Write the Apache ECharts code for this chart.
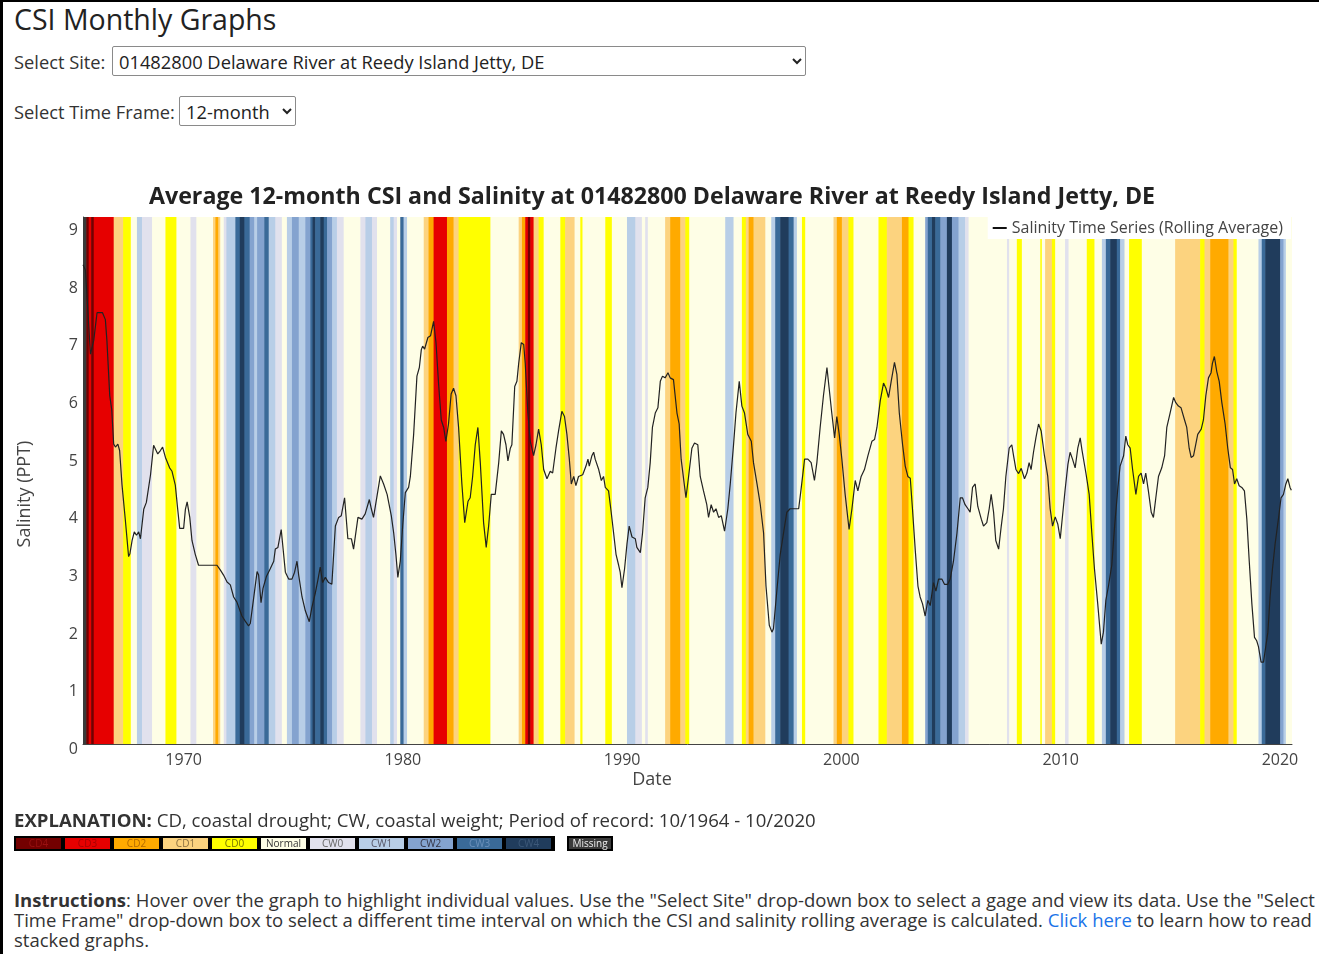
<!DOCTYPE html>
<html><head><meta charset="utf-8">
<script src="https://cdn.jsdelivr.net/npm/echarts@6/dist/echarts.min.js"></script>
<style>
html,body{margin:0;padding:0;background:#fff;}
body{width:1319px;height:954px;position:relative;overflow:hidden;font-family:"Open Sans",sans-serif;color:#333;}
#frame{position:absolute;left:0;top:0;width:1319px;height:954px;border-top:2px solid #000;border-left:3px solid #000;box-sizing:border-box;pointer-events:none;z-index:5;}
#h1{position:absolute;left:14px;top:0px;font-size:28.5px;color:#222;white-space:nowrap;}
.lab{position:absolute;font-size:18.3px;white-space:nowrap;color:#333;}
select{position:absolute;font-family:"Open Sans",sans-serif;font-size:18.3px;color:#222;background:#fff;border:1px solid #8a8a8a;border-radius:2px;height:30px;padding:0 2px;}
#chart{position:absolute;left:0;top:150px;width:1319px;height:660px;}
#expl{position:absolute;left:14px;top:807px;font-size:18.6px;white-space:nowrap;color:#333;}
#strip{position:absolute;left:14px;top:836px;height:15px;width:541px;background:#000;display:flex;gap:4px;padding:2px 2px;box-sizing:border-box;}
#strip div{width:45px;height:11px;font-size:10px;line-height:11px;text-align:center;}
#missing{position:absolute;left:567px;top:836px;width:46px;height:15px;background:#3a3a3a;border:2px solid #000;box-sizing:border-box;color:#eee;font-size:10px;line-height:11px;text-align:center;}
#instr{position:absolute;left:14px;top:890px;font-size:18.5px;line-height:20px;white-space:nowrap;color:#333;}
#instr a{color:#1a73e8;text-decoration:none;}
</style></head>
<body>
<div id="frame"></div>
<div id="h1">CSI Monthly Graphs</div>
<div class="lab" style="left:14px;top:49px;">Select Site:</div>
<select style="left:112px;top:46px;width:694px;"><option>01482800 Delaware River at Reedy Island Jetty, DE</option></select>
<div class="lab" style="left:14px;top:99px;">Select Time Frame:</div>
<select style="left:179px;top:96px;width:117px;"><option>12-month</option></select>
<div id="chart"></div>
<div id="expl"><b>EXPLANATION:</b> CD, coastal drought; CW, coastal weight; Period of record: 10/1964 - 10/2020</div>
<div id="strip"></div>
<div id="missing">Missing</div>
<div id="instr"><b>Instructions</b>: Hover over the graph to highlight individual values. Use the "Select Site" drop-down box to select a gage and view its data. Use the "Select<br>Time Frame" drop-down box to select a different time interval on which the CSI and salinity rolling average is calculated. <a href="#">Click here</a> to learn how to read<br>stacked graphs.</div>
<script>
// ---- CSI categories ----
const catNames = ['CD4','CD3','CD2','CD1','CD0','Normal','CW0','CW1','CW2','CW3','CW4','Missing'];
const catColors = ['#730000','#e60000','#ffaa00','#fcd37f','#ffff00','#fefee6','#e1e1ed','#b8cee7','#84a3cf','#3a6a98','#203c5c','#3a3a3a'];
const catTextColors = ['#9a1010','#a80000','#b36b00','#8a7040','#777700','#333','#666','#556','#334','#6a90bb','#3c5878'];

// ---- CSI monthly bands (run start, decimal year) ----
const bandStarts = [1965.41,1965.56,1965.67,1965.78,1965.90,1966.81,1967.24,1967.59,1967.87,1968.10,1968.56,1969.17,1969.67,1970.31,1970.58,1971.34,1971.45,1971.58,1971.67,1971.83,1971.95,1972.36,1972.56,1972.77,1973.01,1973.22,1973.35,1973.68,1973.88,1974.18,1974.48,1974.71,1974.94,1975.25,1975.55,1975.78,1975.88,1976.00,1976.23,1976.39,1976.54,1976.77,1976.99,1977.30,1978.06,1978.29,1978.59,1978.82,1979.42,1979.58,1979.73,1979.88,1980.03,1980.19,1980.95,1981.17,1981.40,1982.01,1982.31,1982.54,1983.99,1985.28,1985.43,1985.58,1985.70,1985.81,1985.96,1986.19,1986.42,1987.18,1987.40,1987.83,1988.09,1988.19,1989.23,1989.53,1990.22,1990.60,1990.90,1991.05,1991.17,1991.96,1992.19,1992.65,1992.88,1993.06,1994.70,1995.08,1995.46,1995.64,1995.77,1995.99,1996.53,1996.80,1996.98,1997.21,1997.59,1997.82,1997.97,1998.20,1998.35,1999.64,1999.79,2000.02,2000.32,2000.55,2001.69,2002.07,2002.76,2003.06,2003.29,2003.82,2003.94,2004.13,2004.28,2004.51,2004.81,2005.04,2005.34,2005.64,2005.80,2007.55,2007.65,2008.00,2008.23,2009.07,2009.14,2009.29,2009.60,2009.75,2010.20,2010.36,2011.19,2011.54,2011.88,2012.06,2012.26,2012.56,2012.71,2012.91,2013.12,2013.70,2015.22,2016.36,2016.56,2016.82,2017.65,2017.88,2018.03,2019.02,2019.17,2019.33,2020.01,2020.16,2020.27];
const bandCats = ['Missing','CD4','CD3','CD4','CD3','CD1','CD0','Normal','CW1','CW0','Normal','CD0','Normal','CW0','Normal','CD1','CD2','CD1','Normal','CW0','CW1','CW3','CW4','CW3','CW2','CW1','CW2','CW3','CW1','CW0','Normal','CW1','CW2','CW1','CW2','CW3','CW4','CW3','CW4','CW3','CW2','CW1','CW0','Normal','CW0','CW1','CW0','Normal','CW1','CW0','Normal','CW3','CW1','Normal','CD1','CD2','CD3','CD2','CD1','CD0','Normal','CD1','CD2','CD3','CD4','CD3','CD1','CD0','Normal','CD0','CD1','Normal','CD0','Normal','CD0','Normal','CW1','CW0','Normal','CW0','Normal','CD1','CD2','CD1','CD0','Normal','CW1','Normal','CD0','CD1','CD2','CD1','Normal','CW1','CW3','CW4','CW3','CW1','Normal','CD0','Normal','CD1','CD2','CD1','CD0','Normal','CD0','CD1','CD2','CD0','Normal','CW2','CW3','CW4','CW3','CW2','CW4','CW2','CW1','CW0','Normal','CW0','Normal','CD0','Normal','CD0','Normal','CD1','CD0','Normal','CW0','Normal','CD0','Normal','CW1','CW3','CW4','CW3','CW1','Normal','CD0','Normal','CD1','CD0','CD1','CD2','CD1','CD0','Normal','CW1','CW3','CW4','CW2','CW1','Normal'];

// ---- Salinity 12-month rolling average (PPT) ----
const salYears = [1965.41,1965.52,1965.60,1965.75,1965.90,1966.05,1966.30,1966.43,1966.50,1966.63,1966.72,1966.81,1966.89,1967.00,1967.08,1967.19,1967.34,1967.49,1967.55,1967.65,1967.75,1967.85,1967.95,1968.03,1968.18,1968.30,1968.37,1968.49,1968.63,1968.71,1968.82,1968.94,1969.04,1969.17,1969.36,1969.47,1969.62,1969.73,1969.82,1970.00,1970.08,1970.16,1970.28,1970.38,1970.53,1970.68,1971.52,1971.67,1971.82,1971.98,1972.13,1972.28,1972.43,1972.66,1972.81,1972.96,1973.04,1973.19,1973.35,1973.42,1973.53,1973.62,1973.77,1973.95,1974.11,1974.18,1974.30,1974.45,1974.52,1974.64,1974.79,1974.94,1975.06,1975.17,1975.25,1975.40,1975.55,1975.73,1975.85,1976.00,1976.13,1976.23,1976.34,1976.46,1976.61,1976.76,1976.92,1977.07,1977.19,1977.34,1977.49,1977.65,1977.75,1977.95,1978.13,1978.28,1978.47,1978.56,1978.66,1978.74,1978.97,1979.12,1979.28,1979.47,1979.58,1979.68,1979.77,1979.88,1979.99,1980.11,1980.26,1980.34,1980.49,1980.64,1980.75,1980.84,1980.90,1980.99,1981.14,1981.26,1981.40,1981.51,1981.63,1981.75,1981.86,1981.96,1982.08,1982.20,1982.31,1982.42,1982.54,1982.69,1982.82,1982.97,1983.07,1983.18,1983.30,1983.42,1983.53,1983.68,1983.80,1983.91,1984.03,1984.21,1984.37,1984.49,1984.59,1984.70,1984.79,1984.90,1984.97,1985.10,1985.20,1985.28,1985.40,1985.51,1985.58,1985.70,1985.81,1985.96,1986.07,1986.19,1986.31,1986.42,1986.57,1986.72,1986.83,1986.98,1987.10,1987.25,1987.37,1987.48,1987.59,1987.68,1987.79,1987.89,1988.01,1988.20,1988.35,1988.44,1988.50,1988.62,1988.70,1988.77,1988.93,1989.05,1989.15,1989.23,1989.38,1989.50,1989.61,1989.72,1989.84,1989.91,1989.99,1990.11,1990.22,1990.32,1990.45,1990.60,1990.67,1990.83,1990.93,1991.05,1991.17,1991.28,1991.38,1991.51,1991.63,1991.74,1991.84,1991.96,1992.09,1992.19,1992.34,1992.50,1992.60,1992.69,1992.76,1992.91,1993.03,1993.18,1993.30,1993.45,1993.56,1993.71,1993.86,1993.94,1994.06,1994.17,1994.28,1994.40,1994.52,1994.67,1994.82,1994.93,1995.08,1995.19,1995.34,1995.46,1995.58,1995.73,1995.89,1995.99,1996.15,1996.30,1996.45,1996.56,1996.71,1996.83,1996.90,1997.06,1997.21,1997.36,1997.51,1997.66,1997.82,1998.05,1998.17,1998.32,1998.47,1998.62,1998.77,1998.88,1999.03,1999.18,1999.34,1999.44,1999.56,1999.69,1999.79,1999.90,2000.02,2000.17,2000.35,2000.48,2000.63,2000.75,2000.90,2001.05,2001.21,2001.39,2001.51,2001.62,2001.77,2001.92,2002.03,2002.15,2002.27,2002.42,2002.53,2002.64,2002.79,2002.91,2003.03,2003.14,2003.24,2003.37,2003.49,2003.59,2003.70,2003.82,2003.94,2004.05,2004.20,2004.31,2004.43,2004.58,2004.70,2004.85,2004.96,2005.11,2005.27,2005.42,2005.52,2005.64,2005.77,2005.87,2005.98,2006.10,2006.22,2006.38,2006.48,2006.63,2006.74,2006.83,2006.94,2007.04,2007.17,2007.29,2007.39,2007.50,2007.65,2007.77,2007.85,2007.96,2008.08,2008.20,2008.35,2008.46,2008.56,2008.65,2008.76,2008.87,2008.99,2009.11,2009.26,2009.41,2009.52,2009.63,2009.75,2009.87,2009.98,2010.05,2010.20,2010.33,2010.43,2010.54,2010.66,2010.78,2010.89,2010.97,2011.04,2011.15,2011.30,2011.42,2011.54,2011.69,2011.85,2011.95,2012.06,2012.18,2012.33,2012.46,2012.61,2012.71,2012.87,2012.97,2013.06,2013.17,2013.28,2013.43,2013.55,2013.67,2013.78,2013.88,2014.00,2014.13,2014.23,2014.34,2014.46,2014.61,2014.74,2014.84,2014.99,2015.15,2015.25,2015.37,2015.49,2015.65,2015.75,2015.86,2015.95,2016.06,2016.13,2016.25,2016.41,2016.51,2016.62,2016.74,2016.86,2016.92,2017.01,2017.12,2017.23,2017.35,2017.50,2017.62,2017.74,2017.84,2017.93,2018.03,2018.14,2018.26,2018.38,2018.49,2018.60,2018.72,2018.84,2018.94,2019.02,2019.14,2019.25,2019.33,2019.45,2019.55,2019.66,2019.78,2019.93,2020.05,2020.16,2020.27,2020.36,2020.46,2020.52];
const salValues = [8.31,8.22,7.72,6.76,7.00,7.48,7.48,7.36,7.00,6.04,5.80,5.20,5.15,5.20,5.09,4.49,3.89,3.25,3.30,3.53,3.68,3.62,3.68,3.56,4.07,4.19,4.19,4.67,5.18,5.15,5.03,5.09,5.15,4.97,4.79,4.73,4.49,4.07,3.74,3.74,4.07,4.20,3.93,3.53,3.29,3.10,3.10,3.02,2.93,2.81,2.76,2.55,2.46,2.22,2.13,2.05,2.09,2.52,2.99,2.93,2.45,2.70,2.90,3.04,3.17,3.38,3.41,3.72,3.69,2.98,2.86,2.86,2.98,3.17,2.92,2.55,2.31,2.12,2.37,2.61,2.86,3.07,2.80,2.89,2.80,2.77,3.78,3.93,3.96,4.27,3.56,3.56,3.38,3.93,3.90,3.99,4.24,4.08,3.93,3.96,4.65,4.51,4.33,3.96,3.66,3.29,2.89,3.17,3.78,4.36,4.45,4.64,5.37,6.38,6.53,6.84,6.90,6.85,7.05,7.08,7.33,6.96,6.23,5.62,5.49,5.25,5.55,6.07,6.17,6.04,5.49,4.51,3.84,4.21,4.27,4.64,5.19,5.49,4.88,3.84,3.41,3.78,4.33,4.33,4.88,5.43,5.37,5.19,4.91,5.13,5.19,6.20,6.29,6.60,6.96,6.93,6.60,5.74,5.25,5.00,5.19,5.46,5.19,4.76,4.60,4.73,4.70,5.13,5.43,5.77,5.68,5.37,4.94,4.51,4.64,4.48,4.64,4.67,4.82,4.94,4.82,5.00,5.06,4.94,4.76,4.57,4.64,4.45,4.39,4.02,3.66,3.29,3.10,2.98,2.71,3.04,3.47,3.78,3.59,3.56,3.41,3.32,3.66,4.27,4.45,4.88,5.49,5.74,5.83,6.29,6.38,6.35,6.44,6.35,6.32,5.74,5.55,4.94,4.94,4.27,4.64,5.13,5.22,5.19,4.64,4.39,4.15,3.93,4.15,4.02,4.08,3.93,3.96,3.69,4.08,4.51,5.19,5.74,6.29,5.86,5.74,5.37,5.25,4.88,4.51,4.15,3.66,2.74,2.06,1.94,2.00,2.68,3.29,3.66,4.02,4.08,4.08,4.08,4.45,4.94,4.94,4.88,4.57,4.88,5.49,6.04,6.53,6.17,5.74,5.31,5.68,5.37,4.94,4.33,3.72,4.08,4.57,4.39,4.64,4.76,5.00,5.25,5.28,5.49,5.95,6.26,6.17,6.01,6.29,6.62,6.41,5.74,5.19,4.82,4.64,4.61,4.08,3.35,2.74,2.55,2.43,2.22,2.49,2.40,2.80,2.65,2.86,2.86,2.77,2.77,2.86,3.17,3.66,4.27,4.27,4.15,4.08,4.02,4.45,4.51,4.12,3.90,3.78,3.84,4.08,4.33,4.02,3.53,3.38,3.78,4.08,4.64,5.13,5.19,5.00,4.76,4.69,4.78,4.60,4.70,4.88,4.76,5.06,5.31,5.55,5.43,5.00,4.64,4.08,3.78,3.94,3.81,3.56,3.53,4.40,4.85,5.06,4.94,4.79,5.13,5.31,5.10,5.07,4.70,4.33,3.66,3.04,2.43,1.73,1.94,2.49,2.74,3.10,3.78,4.45,4.82,5.00,5.34,5.19,5.13,4.76,4.33,4.64,4.70,4.51,4.70,4.39,4.02,3.93,4.27,4.64,4.79,5.00,5.49,5.74,6.01,5.92,5.86,5.83,5.62,5.49,5.13,4.97,5.00,4.97,5.37,5.46,5.62,6.04,6.35,6.44,6.60,6.72,6.46,6.29,5.92,5.55,5.13,4.79,4.76,4.51,4.60,4.48,4.45,4.39,3.90,3.17,2.43,1.85,1.79,1.69,1.42,1.42,1.45,1.94,2.55,3.04,3.47,3.90,4.27,4.33,4.51,4.60,4.45,4.40];

// ---- axis ticks ----
const xTickYears = [1970,1980,1990,2000,2010,2020];
const yTickValues = [0,1,2,3,4,5,6,7,8,9];

const xMin = 1965.41, xMax = 2020.55, yMax = 9.14;

// legend strip
const strip = document.getElementById('strip');
catNames.slice(0,11).forEach((n,i)=>{
  const d=document.createElement('div');
  d.textContent=n; d.style.background=catColors[i]; d.style.color=catTextColors[i];
  strip.appendChild(d);
});

const bandData = bandStarts.map((s,i)=>[s, i+1<bandStarts.length?bandStarts[i+1]:xMax, catNames.indexOf(bandCats[i])]);
const lineData = salYears.map((y,i)=>[y, salValues[i]]);

const chart = echarts.init(document.getElementById('chart'), null, {renderer:'canvas'});
const gridTop = 67, gridLeft = 83, gridW = 1209, gridH = 527;
chart.setOption({
  animation:false,
  grid:{left:gridLeft, top:gridTop, width:gridW, height:gridH},
  xAxis:{type:'value', min:xMin, max:xMax,
    axisLine:{show:true, lineStyle:{color:'#444'}},
    axisTick:{show:false},
    splitLine:{show:false},
    axisLabel:{customValues:xTickYears, formatter:v=>String(Math.round(v)), fontFamily:'Open Sans', fontSize:16, color:'#444', margin:8}},
  yAxis:{type:'value', min:0, max:yMax,
    axisLine:{show:true, lineStyle:{color:'#444'}},
    axisTick:{show:false},
    splitLine:{show:false},
    axisLabel:{customValues:yTickValues, fontFamily:'Open Sans', fontSize:16, color:'#444', margin:5,
      formatter:v=>'{a|'+v+'}', rich:{a:{fontFamily:'Open Sans', fontSize:16, color:'#444', padding:[11,0,0,0]}}}},
  legend:{show:true, data:['Salinity Time Series (Rolling Average)'], right:28, top:67,
    backgroundColor:'#fff', padding:[3,8,3,5], itemWidth:14, itemHeight:2, icon:'rect',
    textStyle:{fontFamily:'Open Sans', fontSize:16, color:'#444'}},
  graphic:[
    {type:'text', x:652, y:47, style:{text:'Average 12-month CSI and Salinity at 01482800 Delaware River at Reedy Island Jetty, DE', font:'bold 23.2px "Open Sans"', fill:'#222', align:'center', verticalAlign:'middle'}},
    {type:'text', x:652, y:630, style:{text:'Date', font:'18px "Open Sans"', fill:'#444', align:'center', verticalAlign:'middle'}},
    {type:'text', x:25, y:344, rotation:Math.PI/2, style:{text:'Salinity (PPT)', font:'18px "Open Sans"', fill:'#444', align:'center', verticalAlign:'middle'}}
  ],
  series:[
    {type:'custom', name:'CSI', silent:true, z:1, clip:true,
     data:bandData,
     encode:{x:[0,1]},
     renderItem:function(params, api){
       const s=api.value(0), e=api.value(1), c=api.value(2);
       const p0=api.coord([s, yMax]); const p1=api.coord([e, 0]);
       return {type:'rect', shape:{x:p0[0], y:p0[1], width:p1[0]-p0[0]+0.6, height:p1[1]-p0[1]}, style:{fill:catColors[c]}};
     }},
    {type:'line', name:'Salinity Time Series (Rolling Average)', data:lineData, z:5,
     showSymbol:false, symbol:'none', lineStyle:{color:'#222', width:1.2}, itemStyle:{color:'#111'}}
  ]
});
</script>
</body></html>
